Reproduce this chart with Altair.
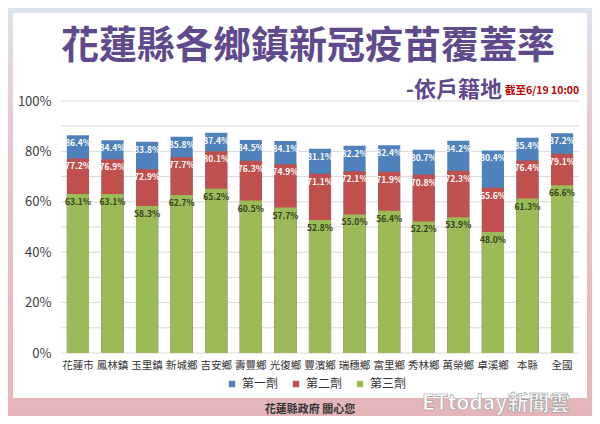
import altair as alt
import pandas as pd

towns = ["花蓮市", "鳳林鎮", "玉里鎮", "新城鄉", "吉安鄉", "壽豐鄉", "光復鄉", "豐濱鄉",
         "瑞穗鄉", "富里鄉", "秀林鄉", "萬榮鄉", "卓溪鄉", "本縣", "全國"]
dose1 = [86.4, 84.4, 83.8, 85.8, 87.4, 84.5, 84.1, 81.1, 82.2, 82.4, 80.7, 84.2, 80.4, 85.4, 87.2]
dose2 = [77.2, 76.9, 72.9, 77.7, 80.1, 76.3, 74.9, 71.1, 72.1, 71.9, 70.8, 72.3, 65.6, 76.4, 79.1]
dose3 = [63.1, 63.1, 58.3, 62.7, 65.2, 60.5, 57.7, 52.8, 55.0, 56.4, 52.2, 53.9, 48.0, 61.3, 66.6]
series_names = ["第一劑", "第二劑", "第三劑"]
series_colors = ["#4f81bd", "#c0504d", "#9bbb59"]
y_ticks = [0, 0.1, 0.2, 0.3, 0.4, 0.5, 0.6, 0.7, 0.8, 0.9, 1.0]

title_text = "花蓮縣各鄉鎮新冠疫苗覆蓋率"
subtitle_text = "-依戶籍地"
date_text = "截至6/19 10:00"
footer_text = "花蓮縣政府 關心您"
watermark_text = "ETtoday新聞雲"

FONT = "Noto Sans CJK TC"

rows = []
for rank, (s, vals) in enumerate(zip(series_names, [dose1, dose2, dose3])):
    for t, v in zip(towns, vals):
        rows.append({"town": t, "series": s, "value": v / 100.0,
                     "label": f"{v:.1f}%", "rank": rank})
df = pd.DataFrame(rows)
grid_df = pd.DataFrame({"tick": y_ticks})
one = pd.DataFrame({"a": [0]})

W, H = 518, 252
PL, PT = 53, 93
TOTW, TOTH = 584, 408

bg = alt.Chart(one).mark_rect(
    color=alt.Gradient(
        gradient="linear", x1=0, x2=0, y1=0, y2=1,
        stops=[alt.GradientStop(offset=0, color="#dce4ef"),
               alt.GradientStop(offset=0.15, color="#e3d4dc"),
               alt.GradientStop(offset=0.35, color="#e8c6ca"),
               alt.GradientStop(offset=1, color="#e4b5b8")]
    )
).encode(x=alt.value(-PL), x2=alt.value(TOTW - PL),
         y=alt.value(-PT), y2=alt.value(TOTH - PT))

panel = alt.Chart(one).mark_rect(color="white").encode(
    x=alt.value(-48), x2=alt.value(526), y=alt.value(-88), y2=alt.value(297))

grid = alt.Chart(grid_df).mark_rule(color="#d9d9d9", strokeWidth=1).encode(
    y=alt.Y("tick:Q", scale=alt.Scale(domain=[0, 1], nice=False)),
    x=alt.value(0), x2=alt.value(W))

xenc = alt.X("town:N", sort=towns,
             scale=alt.Scale(paddingInner=0.36, paddingOuter=0.17),
             axis=alt.Axis(title=None, labelAngle=0, labelFont=FONT, labelFontSize=10.5,
                           labelColor="#333333", domain=False, ticks=False,
                           labelPadding=7, zindex=1))
yenc = alt.Y("value:Q", stack=None,
             scale=alt.Scale(domain=[0, 1], nice=False),
             axis=alt.Axis(title=None, values=y_ticks, format=".0%", grid=False,
                           labelFont=FONT, labelFontSize=13, labelColor="#404040",
                           domain=False, ticks=False, labelPadding=10, zindex=1))

bars = alt.Chart(df).mark_bar().encode(
    x=xenc, y=yenc,
    color=alt.Color("series:N",
                    scale=alt.Scale(domain=series_names, range=series_colors),
                    legend=alt.Legend(title=None, orient="none", direction="horizontal",
                                      legendX=165, legendY=277, symbolType="square",
                                      symbolSize=40, symbolStrokeWidth=0,
                                      labelFont=FONT, labelFontSize=12,
                                      labelColor="#333333", labelOffset=4,
                                      columnPadding=11, zindex=1)),
    order=alt.Order("rank:Q"))

labels = alt.Chart(df).mark_text(baseline="top", dy=4, fontSize=8.5,
                                 fontWeight="bold", font=FONT).encode(
    x=alt.X("town:N", sort=towns), y=alt.Y("value:Q", stack=None),
    text="label:N",
    color=alt.condition("datum.series == '第三劑'", alt.value("#33421a"), alt.value("white")))

title = alt.Chart(one).mark_text(text=title_text, font=FONT, fontSize=38,
                                 fontWeight="bold", color="#5e4a8c", align="center",
                                 baseline="middle").encode(
    x=alt.value(300 - PL), y=alt.value(39 - PT))

subtitle = alt.Chart(one).mark_text(text=subtitle_text, font=FONT, fontSize=22,
                                    fontWeight="bold", color="#5e4a8c", align="right",
                                    baseline="middle").encode(
    x=alt.value(494 - PL), y=alt.value(82 - PT))

date = alt.Chart(one).mark_text(text=date_text, font=FONT, fontSize=10.5,
                                fontWeight="bold", color="#c00000", align="left",
                                baseline="middle").encode(
    x=alt.value(497 - PL), y=alt.value(83 - PT))

footer = alt.Chart(one).mark_text(text=footer_text, font=FONT, fontSize=11,
                                  fontWeight="bold", color="#333333", align="center",
                                  baseline="middle").encode(
    x=alt.value(302 - PL), y=alt.value(402 - PT))

watermark = alt.Chart(one).mark_text(text=watermark_text, font=FONT, fontSize=21,
                                     fontWeight="bold", color="white", stroke="#9a9a9a",
                                     strokeWidth=0.6, align="left",
                                     baseline="middle").encode(
    x=alt.value(414 - PL), y=alt.value(396 - PT))

chart = alt.layer(bg, panel, grid, bars, labels, title, subtitle, date, footer, watermark).properties(
    width=W, height=H,
    autosize=alt.AutoSizeParams(type="none"),
    padding={"left": PL, "top": PT, "right": TOTW - PL - W, "bottom": TOTH - PT - H},
).resolve_scale(y="shared").configure_view(stroke=None)

chart.save("out.html", embed_options={"renderer": "svg", "actions": False})
